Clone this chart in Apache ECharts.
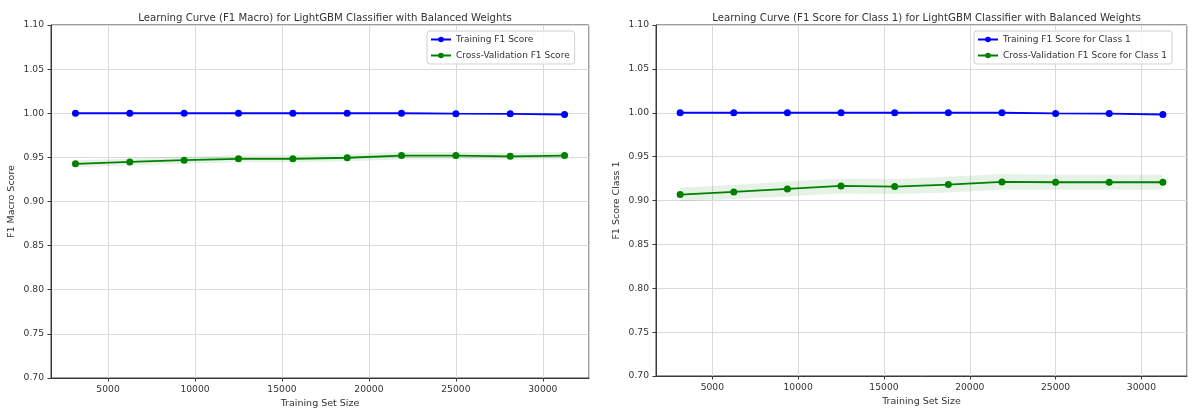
<!DOCTYPE html>
<html>
<head>
<meta charset="utf-8">
<title>Learning Curves LightGBM</title>
<script src="https://cdn.jsdelivr.net/npm/echarts@6/dist/echarts.min.js"></script>
<style>
  html, body { margin: 0; padding: 0; background: #fff; }
  #chart { width: 1192px; height: 414px; }
</style>
</head>
<body>
<div id="chart"></div>
<script>
// training set sizes (10%..100% of train split)
const trainSizes = [3125, 6250, 9375, 12500, 15625, 18750, 21875, 25000, 28125, 31250];

// left panel: F1 macro
const macroTrainMean = [1.0, 1.0, 1.0, 1.0, 1.0, 1.0, 1.0, 0.9995, 0.9993, 0.9986];
const macroCvMean = [0.9427, 0.9448, 0.9468, 0.9484, 0.9484, 0.9496, 0.9520, 0.9520, 0.9512, 0.9520];
const macroCvStd = [0.004, 0.004, 0.004, 0.004, 0.004, 0.004, 0.0045, 0.004, 0.004, 0.004];

// right panel: F1 for class 1
const c1TrainMean = [1.0, 1.0, 1.0, 1.0, 1.0, 1.0, 1.0, 0.9992, 0.9991, 0.998];
const c1CvMean = [0.9068, 0.9098, 0.9132, 0.9166, 0.9159, 0.9182, 0.9212, 0.9208, 0.9208, 0.9208];
const c1CvStd = [0.008, 0.008, 0.0085, 0.0085, 0.0085, 0.009, 0.009, 0.0085, 0.0085, 0.0085];

const titles = [
    'Learning Curve (F1 Macro) for LightGBM Classifier with Balanced Weights',
    'Learning Curve (F1 Score for Class 1) for LightGBM Classifier with Balanced Weights',
];
const yNames = ['F1 Macro Score', 'F1 Score Class 1'];
const legendNames = [
    ['Training F1 Score', 'Cross-Validation F1 Score'],
    ['Training F1 Score for Class 1', 'Cross-Validation F1 Score for Class 1'],
];

const FONT = 'DejaVu Sans';
const TEXT = '#333';
const FRAME = '#3a3a3a';

const chart = echarts.init(document.getElementById('chart'), null, { renderer: 'canvas' });

const pairs = (ys) => trainSizes.map((x, i) => [x, ys[i]]);

// matplotlib-style 5% margins around the data
const span = trainSizes[trainSizes.length - 1] - trainSizes[0];
const xMin = trainSizes[0] - span * 0.05;
const xMax = trainSizes[trainSizes.length - 1] + span * 0.05;

const grids = [
    { left: 51, top: 25, width: 538, height: 353 },
    { left: 656, top: 25, width: 531, height: 351 },
];

function makeXAxis(idx) {
    return {
        type: 'value',
        gridIndex: idx,
        min: xMin,
        max: xMax,
        splitNumber: 6,
        name: 'Training Set Size',
        nameLocation: 'middle',
        nameGap: 18,
        nameTextStyle: { fontFamily: FONT, fontSize: 9.5, color: TEXT, verticalAlign: 'top' },
        axisLine: { show: true, lineStyle: { color: FRAME, width: 1 } },
        axisTick: { show: true, length: 3.5, lineStyle: { color: FRAME } },
        axisLabel: {
            fontFamily: FONT, fontSize: 9.2, color: TEXT, margin: 7,
            showMinLabel: false, showMaxLabel: false,
            formatter: (v) => String(Math.round(v)),
        },
        splitLine: { show: true, lineStyle: { color: '#dadada', width: 1 } },
    };
}

function makeYAxis(idx) {
    return {
        type: 'value',
        gridIndex: idx,
        min: 0.7,
        max: 1.1,
        interval: 0.05,
        name: yNames[idx],
        nameLocation: 'middle',
        nameGap: 34,
        nameTextStyle: { fontFamily: FONT, fontSize: 9.5, color: TEXT },
        axisLine: { show: true, lineStyle: { color: FRAME, width: 1 } },
        axisTick: { show: true, length: 3.5, lineStyle: { color: FRAME } },
        axisLabel: {
            fontFamily: FONT, fontSize: 9.2, color: TEXT, margin: 7,
            formatter: (v) => v.toFixed(2),
        },
        splitLine: { show: true, lineStyle: { color: '#dadada', width: 1 } },
    };
}

// shaded +/- std band, drawn once as one polygon through the axis scales
function bandSeries(idx, mean, std) {
    const rows = trainSizes.map((x, i) => [x, mean[i] - std[i], mean[i] + std[i]]);
    return {
        type: 'custom', xAxisIndex: idx, yAxisIndex: idx,
        data: rows, silent: true, z: 1,
        renderItem: (params, api) => {
            if (params.dataIndex !== 0) return null;
            const top = rows.map((r) => api.coord([r[0], r[2]]));
            const bottom = rows.map((r) => api.coord([r[0], r[1]])).reverse();
            return {
                type: 'polygon',
                shape: { points: top.concat(bottom) },
                style: { fill: 'rgba(0,128,0,0.1)', stroke: null },
            };
        },
    };
}

function panelSeries(idx, trainMean, cvMean, cvStd) {
    return [
        bandSeries(idx, cvMean, cvStd),
        {
            name: legendNames[idx][0],
            type: 'line', xAxisIndex: idx, yAxisIndex: idx,
            data: pairs(trainMean),
            symbol: 'circle', symbolSize: 7, showAllSymbol: true,
            lineStyle: { color: '#0000ff', width: 1.8 },
            itemStyle: { color: '#0000ff' },
            z: 3,
        },
        {
            name: legendNames[idx][1],
            type: 'line', xAxisIndex: idx, yAxisIndex: idx,
            data: pairs(cvMean),
            symbol: 'circle', symbolSize: 7, showAllSymbol: true,
            lineStyle: { color: '#008000', width: 1.8 },
            itemStyle: { color: '#008000' },
            z: 3,
        },
    ];
}

function makeLegend(idx, left) {
    return {
        data: legendNames[idx],
        left: left,
        top: 31,
        orient: 'vertical',
        selectedMode: false,
        itemWidth: 20,
        itemHeight: 7,
        itemGap: 5,
        padding: [3, 5, 3, 3],
        backgroundColor: 'rgba(255,255,255,0.85)',
        borderColor: '#d0d0d0',
        borderWidth: 1,
        borderRadius: 3,
        textStyle: { fontFamily: FONT, fontSize: 9, color: TEXT, lineHeight: 11 },
    };
}

const option = {
    backgroundColor: '#fff',
    animation: false,
    title: titles.map((t, i) => ({
        text: t,
        left: grids[i].left + grids[i].width / 2,
        top: 8,
        textAlign: 'center',
        textStyle: { fontFamily: FONT, fontSize: 10.2, fontWeight: 'normal', color: TEXT },
    })),
    legend: [makeLegend(0, 427), makeLegend(1, 974)],
    grid: grids.map((g) => ({
        ...g, show: true, borderColor: FRAME, borderWidth: 1, backgroundColor: 'transparent',
    })),
    xAxis: [makeXAxis(0), makeXAxis(1)],
    yAxis: [makeYAxis(0), makeYAxis(1)],
    series: [
        ...panelSeries(0, macroTrainMean, macroCvMean, macroCvStd),
        ...panelSeries(1, c1TrainMean, c1CvMean, c1CvStd),
    ],
};

chart.setOption(option);

window.addEventListener('resize', () => chart.resize());
</script>
</body>
</html>
